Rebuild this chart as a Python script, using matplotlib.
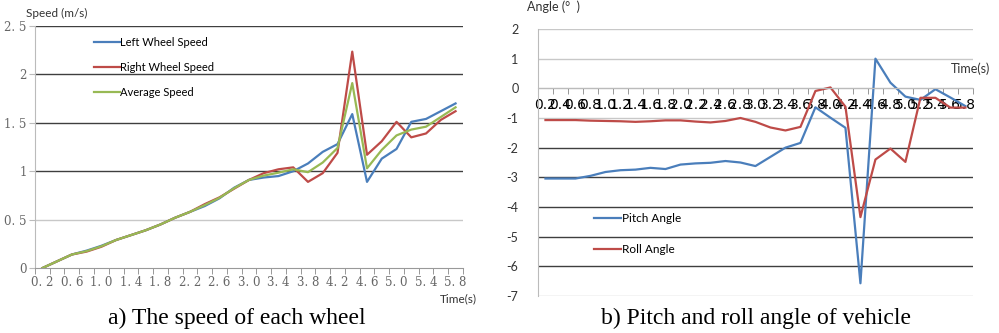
import numpy as np
import matplotlib
matplotlib.use("Agg")
import matplotlib.pyplot as plt

# ── data ────────────────────────────────────────────────────────────────
times = [0.2, 0.4, 0.6, 0.8, 1.0, 1.2, 1.4, 1.6, 1.8, 2.0, 2.2, 2.4, 2.6, 2.8,
         3.0, 3.2, 3.4, 3.6, 3.8, 4.0, 4.2, 4.4, 4.6, 4.8, 5.0, 5.2, 5.4, 5.6, 5.8]

left_speed = [0.0, 0.07, 0.14, 0.18, 0.23, 0.29, 0.34, 0.39, 0.45, 0.52, 0.58,
              0.64, 0.72, 0.83, 0.91, 0.935, 0.95, 1.0, 1.08, 1.20, 1.28, 1.59,
              0.89, 1.13, 1.23, 1.51, 1.54, 1.62, 1.70]
right_speed = [0.0, 0.07, 0.14, 0.17, 0.22, 0.29, 0.34, 0.39, 0.45, 0.52, 0.58,
               0.66, 0.73, 0.82, 0.91, 0.98, 1.02, 1.04, 0.89, 0.98, 1.19, 2.235,
               1.17, 1.31, 1.51, 1.35, 1.39, 1.53, 1.62]
avg_speed = [0.0, 0.07, 0.14, 0.175, 0.225, 0.29, 0.34, 0.39, 0.45, 0.52, 0.58,
             0.65, 0.725, 0.825, 0.91, 0.955, 0.985, 1.02, 0.99, 1.09, 1.24, 1.91,
             1.03, 1.22, 1.37, 1.43, 1.46, 1.56, 1.66]

pitch = [-3.04, -3.04, -3.04, -2.95, -2.82, -2.76, -2.74, -2.68, -2.72, -2.57,
         -2.53, -2.51, -2.45, -2.50, -2.62, -2.31, -2.0, -1.84, -0.64, -0.99,
         -1.33, -6.57, 1.0, 0.19, -0.28, -0.39, -0.03, -0.31, -0.6]
roll = [-1.07, -1.07, -1.07, -1.09, -1.10, -1.11, -1.13, -1.11, -1.08, -1.08,
        -1.12, -1.15, -1.10, -1.0, -1.13, -1.32, -1.42, -1.30, -0.09, 0.03,
        -0.62, -4.34, -2.40, -2.03, -2.48, -0.32, -0.32, -0.65, -0.65]

speed_ticks = [0, 0.5, 1, 1.5, 2, 2.5]
speed_ticklabels = ["0", "0. 5", "1", "1. 5", "2", "2. 5"]
angle_ticks = [2, 1, 0, -1, -2, -3, -4, -5, -6, -7]

BLUE, RED, GREEN = "#4a7ebb", "#be4b48", "#98b954"
DARK, LIGHT = "#3f3f3f", "#c8c8c8"
SANS = "Lato"

fig = plt.figure(figsize=(9.99, 3.33), dpi=100)
x = np.arange(len(times))

# ── a) speed of each wheel ──────────────────────────────────────────────
ax = fig.add_axes([0.035, 0.195, 0.4284, 0.727])
for yv in speed_ticks[1:]:
    ax.axhline(yv, color=LIGHT if yv == 0.5 else DARK, lw=1.0, zorder=0)
ax.plot(x, left_speed, color=BLUE, lw=1.6, label="Left Wheel Speed")
ax.plot(x, right_speed, color=RED, lw=1.6, label="Right Wheel Speed")
ax.plot(x, avg_speed, color=GREEN, lw=1.6, label="Average Speed")
ax.set_xlim(-0.5, len(times) - 0.5)
ax.set_ylim(0, 2.5)
ax.set_yticks(speed_ticks)
ax.set_yticklabels(speed_ticklabels, family="DejaVu Serif", fontsize=8.5, color="#666666")
ax.set_xticks(x[::2])
ax.set_xticklabels([f"{t:.1f}".replace(".", ". ") for t in times[::2]],
                   family="DejaVu Serif", fontsize=8.5, color="#666666")
ax.set_xticks(np.arange(len(times) + 1) - 0.5, minor=True)
ax.tick_params(axis="x", which="major", length=0, pad=6)
ax.tick_params(axis="x", which="minor", length=4, color="#888888")
ax.tick_params(axis="y", length=4, color="#bbbbbb", pad=2)
for s in ["top", "right"]:
    ax.spines[s].set_visible(False)
ax.spines["left"].set_color("#bbbbbb")
ax.spines["bottom"].set_color("#999999")
ax.text(-0.02, 1.03, "Speed (m/s)", transform=ax.transAxes, family=SANS,
        fontsize=8.5, color="#333333", va="bottom")
ax.text(0.99, -0.105, "Time(s)", transform=ax.transAxes, family=SANS,
        fontsize=8.5, color="#333333", ha="center", va="top")
ax.legend(loc="upper left", bbox_to_anchor=(0.115, 0.995), frameon=False,
          prop={"family": SANS, "size": 8}, handlelength=2.3, handletextpad=0.05,
          labelspacing=1.25)
fig.text(0.237, 0.045, "a) The speed of each wheel", family="Liberation Serif",
         fontsize=17, ha="center", va="center")

# ── b) pitch and roll angle ─────────────────────────────────────────────
ax = fig.add_axes([0.5385, 0.111, 0.4354, 0.802])
for yv in angle_ticks:
    ax.axhline(yv, color=DARK if -6 <= yv <= -2 else LIGHT, lw=1.0, zorder=0)
ax.plot(x, pitch, color=BLUE, lw=1.6, label="Pitch Angle")
ax.plot(x, roll, color=RED, lw=1.6, label="Roll Angle")
ax.set_xlim(-0.5, len(times) - 0.5)
ax.set_ylim(-7, 2)
ax.set_yticks(angle_ticks)
ax.set_yticklabels([str(v) for v in angle_ticks], family=SANS, fontsize=9, color="#333333")
ax.set_xticks(x)
ax.set_xticklabels([f"{t:.1f}" for t in times], family=SANS, fontsize=6.5, color="#333333")
ax.set_xticks(np.arange(len(times) + 1) - 0.5, minor=True)
ax.tick_params(axis="x", which="major", length=0, pad=7)
ax.tick_params(axis="x", which="minor", length=4, color="#888888")
ax.tick_params(axis="y", length=0, pad=14)
for s in ["top", "right"]:
    ax.spines[s].set_visible(False)
ax.spines["left"].set_color("#bbbbbb")
ax.spines["bottom"].set_position(("data", 0))
ax.spines["bottom"].set_color("#bbbbbb")
ax.text(-0.025, 1.06, "Angle (°  )", transform=ax.transAxes, family=SANS,
        fontsize=9, color="#333333", va="bottom")
ax.text(1.04, 0.85, "Time(s)", transform=ax.transAxes, family=SANS,
        fontsize=9, color="#333333", ha="right", va="center")
ax.legend(loc="upper left", bbox_to_anchor=(0.105, 0.35), frameon=False,
          prop={"family": SANS, "size": 8.5}, handlelength=2.3, handletextpad=0.05,
          labelspacing=1.7)
fig.text(0.757, 0.045, "b) Pitch and roll angle of vehicle", family="Liberation Serif",
         fontsize=17, ha="center", va="center")

fig.savefig("out.png", dpi=100)
